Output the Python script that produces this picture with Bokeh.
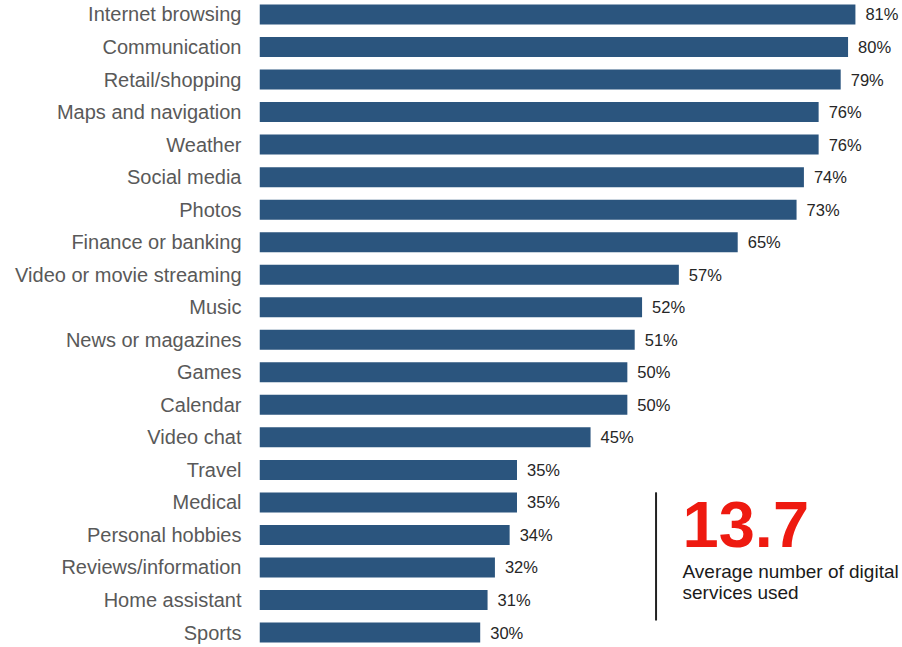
from bokeh.plotting import figure
from bokeh.models import ColumnDataSource, FixedTicker, Label, Range1d
from bokeh.core.properties import value
from bokeh.embed import file_html
from bokeh.resources import INLINE

categories = ["Internet browsing", "Communication", "Retail/shopping", "Maps and navigation",
              "Weather", "Social media", "Photos", "Finance or banking",
              "Video or movie streaming", "Music", "News or magazines", "Games", "Calendar",
              "Video chat", "Travel", "Medical", "Personal hobbies", "Reviews/information",
              "Home assistant", "Sports"]
values = [81, 80, 79, 76, 76, 74, 73, 65, 57, 52, 51, 50, 50, 45, 35, 35, 34, 32, 31, 30]
headline_value = "13.7"
headline_text = ["Average number of digital", "services used"]

n = len(categories)
ypos = [n - 1 - i for i in range(n)]
labels = [f"{v}%" for v in values]

src = ColumnDataSource(dict(y=ypos, v=values, lab=labels))

FONT = "Liberation Sans"
p = figure(width=902, height=647, output_backend="svg", toolbar_location=None,
           x_range=Range1d(0, 87.4), y_range=Range1d(-0.46, 19.43),
           min_border_left=259, min_border_right=0, min_border_top=0, min_border_bottom=0)

p.hbar(y="y", left=0, right="v", height=0.615, source=src, color="#2B557E", line_color=None)
p.text(x="v", y="y", text="lab", source=src, x_offset=10, text_align="left",
       text_baseline="middle", text_font=value(FONT), text_font_size="16.5px",
       text_color="#262626")

# divider line and headline annotation
p.segment(x0=[53.9], x1=[53.9], y0=[4.31], y1=[0.37], line_color="#222222", line_width=2)
p.add_layout(Label(x=57.5, y=3.32, text=headline_value, text_font=FONT, text_font_size="65px",
                   text_font_style="bold", text_color="#EE1A10", text_baseline="alphabetic"))
p.add_layout(Label(x=57.5, y=1.88, text=headline_text[0], text_font=FONT, text_font_size="19px",
                   text_color="#1a1a1a", text_baseline="alphabetic"))
p.add_layout(Label(x=57.5, y=1.23, text=headline_text[1], text_font=FONT, text_font_size="19px",
                   text_color="#1a1a1a", text_baseline="alphabetic"))

p.xaxis.visible = False
p.xgrid.visible = False
p.ygrid.visible = False
p.outline_line_color = None

ax = p.yaxis[0]
ax.ticker = FixedTicker(ticks=ypos)
ax.major_label_overrides = {y: c for y, c in zip(ypos, categories)}
ax.axis_line_color = None
ax.major_tick_line_color = None
ax.minor_tick_line_color = None
ax.major_tick_out = 0
ax.major_tick_in = 0
ax.major_label_standoff = 18
ax.major_label_text_font = FONT
ax.major_label_text_font_size = "20px"
ax.major_label_text_color = "#595959"

open("out.html", "w").write(file_html(p, INLINE))
